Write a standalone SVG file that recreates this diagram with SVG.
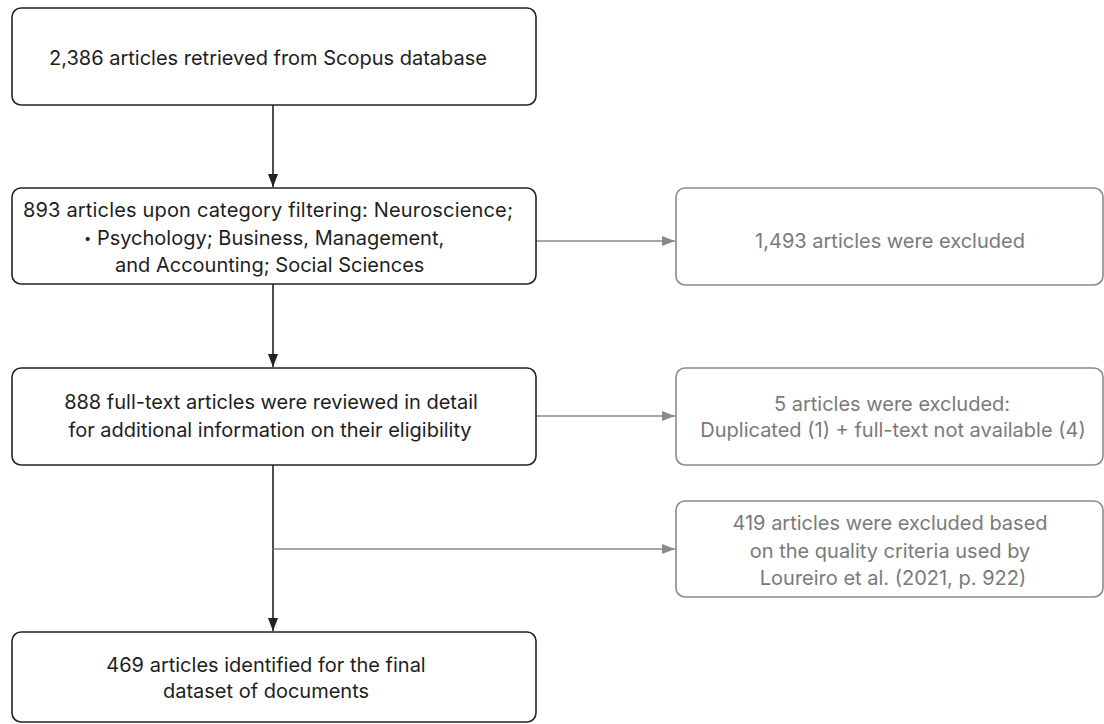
<svg xmlns="http://www.w3.org/2000/svg" width="1104" height="724" viewBox="0 0 1104 724">
<style>
.box{fill:#fff;stroke:#222;stroke-width:1.6}
.gbox{fill:#fff;stroke:#8a8a8a;stroke-width:1.6}
.t{font-family:Inter,"Noto Sans",sans-serif;font-size:20px;fill:#1e1e1e;text-anchor:middle}
.ts{font-family:Inter,"Noto Sans",sans-serif;font-size:20px;fill:#1e1e1e;text-anchor:start}
.gt{font-family:Inter,"Noto Sans",sans-serif;font-size:20px;fill:#7a7a7a;text-anchor:middle}
.c{stroke:#222;stroke-width:1.6;fill:none}
.gc{stroke:#8a8a8a;stroke-width:1.6;fill:none}
</style>
<defs>
<marker id="ab" markerWidth="13" markerHeight="10" refX="13" refY="5" orient="auto" markerUnits="userSpaceOnUse" viewBox="0 0 13 10">
<path d="M0,0 L13,5 L0,10 Z" fill="#222"/>
</marker>
<marker id="ag" markerWidth="13" markerHeight="10" refX="13" refY="5" orient="auto" markerUnits="userSpaceOnUse" viewBox="0 0 13 10">
<path d="M0,0 L13,5 L0,10 Z" fill="#8a8a8a"/>
</marker>
</defs>
<rect width="1104" height="724" fill="#fff"/>
<g id="connectors">
<path class="c" d="M273,105 V187" marker-end="url(#ab)"/>
<path class="c" d="M273,284 V367" marker-end="url(#ab)"/>
<path class="c" d="M273,465 V631" marker-end="url(#ab)"/>
<path class="gc" d="M536,241 H675" marker-end="url(#ag)"/>
<path class="gc" d="M536,416 H675" marker-end="url(#ag)"/>
<path class="gc" d="M273,549 H675" marker-end="url(#ag)"/>
</g>
<g id="n1">
<rect class="box" x="12" y="8" width="524" height="97" rx="9"/>
<text class="t" x="268" y="65">2,386 articles retrieved from Scopus database</text>
</g>
<g id="n2">
<rect class="box" x="12" y="188" width="524" height="96" rx="9"/>
<text class="t" x="268" y="217" textLength="490" lengthAdjust="spacing">893 articles upon category filtering: Neuroscience;</text>
<text class="ts" x="84" y="245"><tspan font-size="13" dy="-2">•</tspan><tspan dy="2"> Psychology; Business, Management,</tspan></text>
<text class="ts" x="115" y="272">and Accounting; Social Sciences</text>
</g>
<g id="n3">
<rect class="gbox" x="676" y="188" width="427" height="97" rx="9"/>
<text class="gt" x="890" y="248">1,493 articles were excluded</text>
</g>
<g id="n4">
<rect class="box" x="12" y="368" width="524" height="97" rx="9"/>
<text class="t" x="271" y="409">888 full-text articles were reviewed in detail</text>
<text class="t" x="270" y="437">for additional information on their eligibility</text>
</g>
<g id="n5">
<rect class="gbox" x="676" y="368" width="427" height="97" rx="9"/>
<text class="gt" x="892" y="411">5 articles were excluded:</text>
<text class="gt" x="893" y="437">Duplicated (1) + full-text not available (4)</text>
</g>
<g id="n6">
<rect class="gbox" x="676" y="501" width="427" height="96" rx="9"/>
<text class="gt" x="890" y="530">419 articles were excluded based</text>
<text class="gt" x="890" y="558">on the quality criteria used by</text>
<text class="gt" x="893" y="585">Loureiro et al. (2021, p. 922)</text>
</g>
<g id="n7">
<rect class="box" x="12" y="632" width="524" height="90" rx="9"/>
<text class="t" x="266" y="672">469 articles identified for the final</text>
<text class="t" x="266" y="698">dataset of documents</text>
</g>
</svg>
